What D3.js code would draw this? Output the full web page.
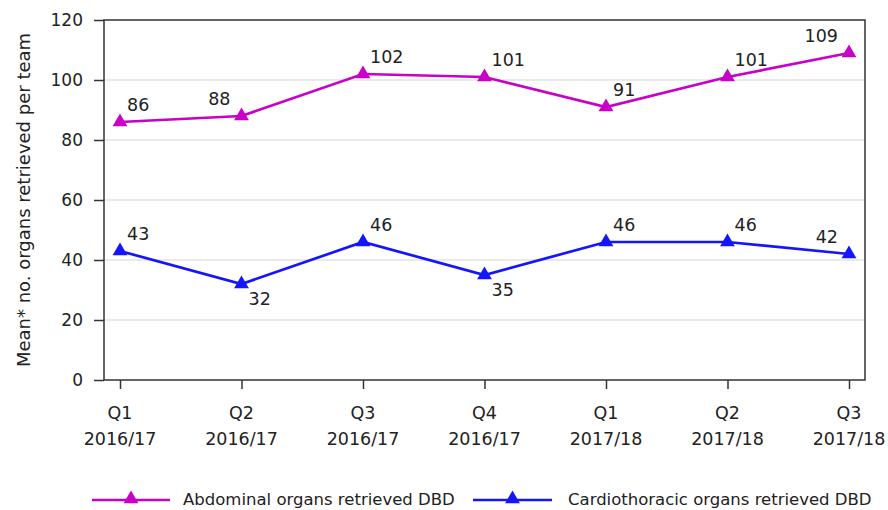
<!DOCTYPE html>
<html>
<head>
<meta charset="utf-8">
<script src="https://cdn.jsdelivr.net/npm/d3@7"></script>
<style>
  body { margin: 0; background: #fff; }
  text { font-family: "DejaVu Sans", Verdana, sans-serif; fill: #222; }
</style>
</head>
<body>
<div id="chart"></div>
<script>
// quarters on the x axis, two lines each
const quarters = ["Q1", "Q2", "Q3", "Q4", "Q1", "Q2", "Q3"];
const years = ["2016/17", "2016/17", "2016/17", "2016/17", "2017/18", "2017/18", "2017/18"];
const abdominal = [86, 88, 102, 101, 91, 101, 109];
const cardio = [43, 32, 46, 35, 46, 46, 42];
const yTicks = [0, 20, 40, 60, 80, 100, 120];

// where each value label sits relative to its point
const abdoLabelPos = ["ar", "al", "ar", "ar", "ar", "ar", "al"];
const cardioLabelPos = ["ar", "br", "ar", "br", "ar", "ar", "al"];

const width = 888, height = 510;
const margin = {top: 20, right: 23, bottom: 130, left: 104};

const svg = d3.select("#chart").append("svg")
    .attr("width", width)
    .attr("height", height);

const x = d3.scalePoint()
    .domain(d3.range(quarters.length))
    .range([120, 849]);

const y = d3.scaleLinear()
    .domain([0, 120])
    .range([height - margin.bottom, margin.top]);

const plotRight = width - margin.right;

// gridlines
svg.append("g")
    .selectAll("line")
    .data(yTicks.filter(d => d > 0 && d < 120))
    .enter().append("line")
    .attr("x1", margin.left)
    .attr("x2", plotRight)
    .attr("y1", d => y(d))
    .attr("y2", d => y(d))
    .style("stroke", "#e3e3e3")
    .style("stroke-width", 1.5);

// frame
svg.append("rect")
    .attr("x", margin.left)
    .attr("y", margin.top)
    .attr("width", plotRight - margin.left)
    .attr("height", y(0) - margin.top)
    .style("fill", "none")
    .style("stroke", "#333")
    .style("stroke-width", 1.5);

// y axis
const yAxis = svg.append("g")
    .attr("transform", `translate(${margin.left},0)`)
    .call(d3.axisLeft(y).tickValues(yTicks).tickSize(10).tickPadding(11));
yAxis.select(".domain").remove();
yAxis.selectAll("line").style("stroke", "#333").style("stroke-width", 1.5);
yAxis.selectAll("text").style("font-size", "17px").style("fill", "#222")
    .style("font-family", "DejaVu Sans, Verdana, sans-serif");

// x axis
const xAxis = svg.append("g")
    .attr("transform", `translate(0,${y(0)})`)
    .call(d3.axisBottom(x).tickSize(9).tickFormat(""));
xAxis.select(".domain").remove();
xAxis.selectAll("line").style("stroke", "#333").style("stroke-width", 1.5);

const xLabels = svg.append("g").selectAll("text")
    .data(quarters)
    .enter().append("text")
    .attr("x", (d, i) => x(i))
    .attr("y", 419)
    .attr("text-anchor", "middle")
    .style("font-size", "17.5px");
xLabels.append("tspan").text(d => d);
xLabels.append("tspan")
    .attr("x", (d, i) => x(i))
    .attr("dy", 26)
    .text((d, i) => years[i]);

// y title
svg.append("text")
    .attr("transform", `translate(30,${(margin.top + y(0)) / 2}) rotate(-90)`)
    .attr("text-anchor", "middle")
    .style("font-size", "18px")
    .text("Mean* no. organs retrieved per team");

const triangle = d3.symbol().type(d3.symbolTriangle).size(95);

function drawSeries(values, color, labelPos) {
    const line = d3.line()
        .x((d, i) => x(i))
        .y(d => y(d));

    svg.append("path")
        .datum(values)
        .attr("d", line)
        .style("fill", "none")
        .style("stroke", color)
        .style("stroke-width", 2.7);

    svg.append("g").selectAll("path")
        .data(values)
        .enter().append("path")
        .attr("d", triangle)
        .attr("transform", (d, i) => `translate(${x(i)},${y(d)})`)
        .style("fill", color);

    svg.append("g").selectAll("text")
        .data(values)
        .enter().append("text")
        .attr("x", (d, i) => labelPos[i].endsWith("l") ? x(i) - 11 : x(i) + 7)
        .attr("y", (d, i) => labelPos[i].startsWith("b") ? y(d) + 21 : y(d) - 11)
        .attr("text-anchor", (d, i) => labelPos[i].endsWith("l") ? "end" : "start")
        .style("font-size", "17.5px")
        .text(d => d);
}

const magenta = "#c800c8";
const blue = "#1414ff";
drawSeries(abdominal, magenta, abdoLabelPos);
drawSeries(cardio, blue, cardioLabelPos);

// legend
const legendItems = [
    {label: "Abdominal organs retrieved DBD", color: magenta, x1: 92, x2: 170, tx: 183},
    {label: "Cardiothoracic organs retrieved DBD", color: blue, x1: 473, x2: 552, tx: 568}
];
const legend = svg.append("g").selectAll("g")
    .data(legendItems)
    .enter().append("g");
legend.append("line")
    .attr("x1", d => d.x1).attr("x2", d => d.x2)
    .attr("y1", 500).attr("y2", 500)
    .style("stroke", d => d.color)
    .style("stroke-width", 2.7);
legend.append("path")
    .attr("d", triangle)
    .attr("transform", d => `translate(${(d.x1 + d.x2) / 2},499)`)
    .style("fill", d => d.color);
legend.append("text")
    .attr("x", d => d.tx)
    .attr("y", 505)
    .style("font-size", "16.5px")
    .text(d => d.label);
</script>
</body>
</html>
